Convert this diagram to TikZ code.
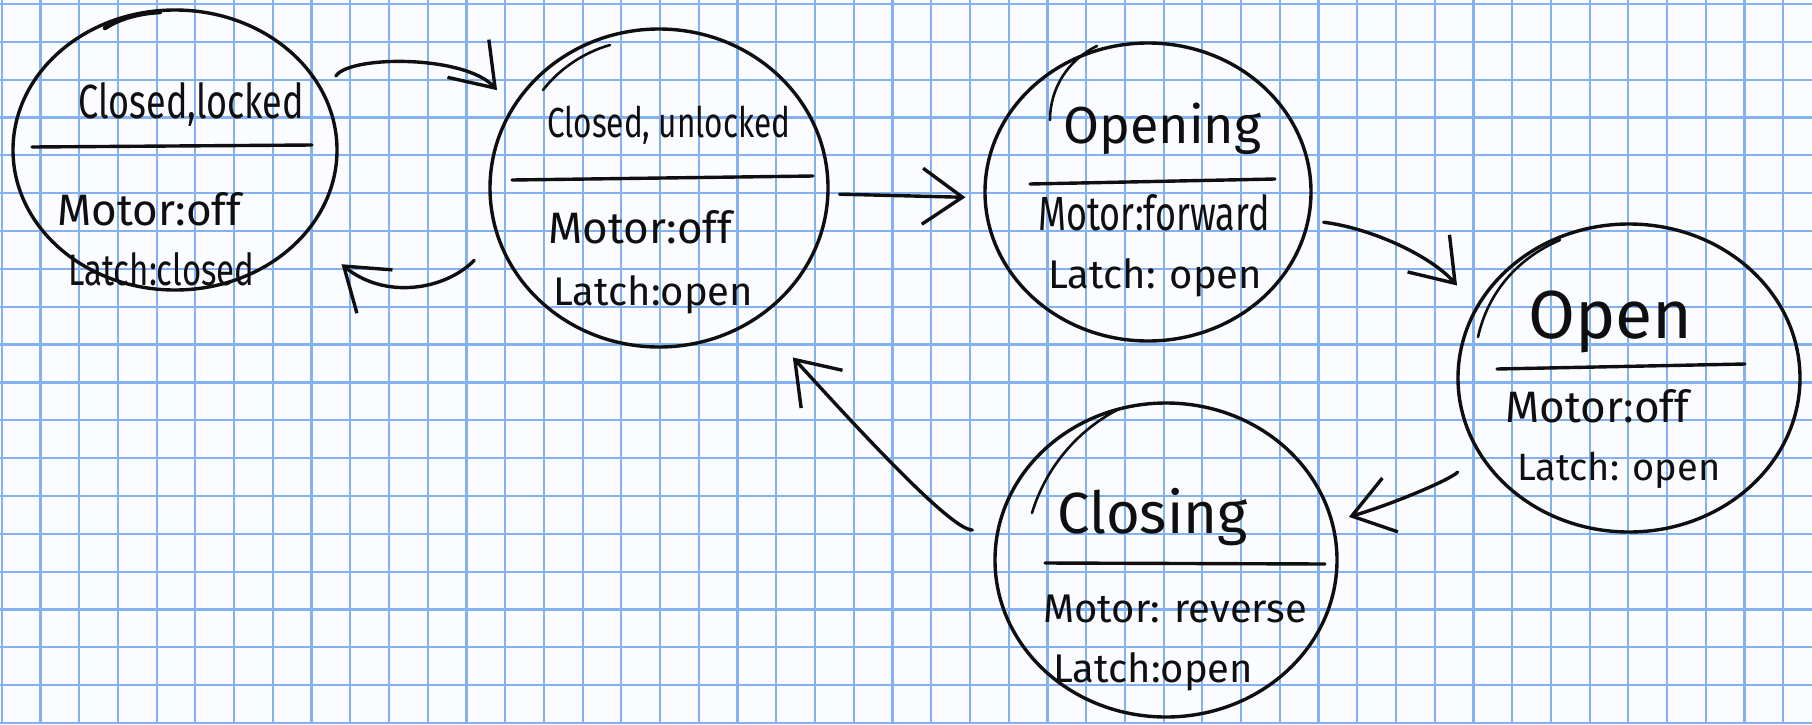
\documentclass[tikz,border=0pt]{standalone}
\usepackage{fontspec}
\setmainfont{Fira Sans}
\newfontfamily\narrowhand{Fira Sans}[FakeStretch=0.75]
\usetikzlibrary{shapes.geometric,arrows.meta}

\definecolor{gridblue}{RGB}{132,178,240}
\definecolor{paper}{RGB}{250,252,255}
\definecolor{ink}{RGB}{15,15,15}

\tikzset{
  gridline/.style={draw=gridblue, line width=1.1pt},
  state/.style={ellipse, draw=ink, line width=1.7pt, inner sep=0pt},
  pen/.style={draw=ink, line width=1.7pt, line cap=round, line join=round},
  retrace/.style={pen, line width=1.3pt},
  conn/.style={pen, -{Straight Barb[length=20pt,width=28pt]}},
  txt/.style={anchor=base west, inner sep=0pt, text=ink},
}

\begin{document}
\begin{tikzpicture}[x=0.5pt,y=-0.5pt]
% paper
\fill[paper] (0,0) rectangle (1812,724);
\useasboundingbox (0,0) rectangle (1812,724);
\foreach \k in {0,...,46}
  \draw[gridline] ({1.7+38.73*\k},0) -- ({1.7+38.73*\k},724);
\foreach \k in {0,...,19}
  \draw[gridline] (0,{4+37.84*\k}) -- (1812,{4+37.84*\k});

% states
\node[state, minimum width=162pt, minimum height=140pt] (CL)   at (175,150)  {};
\node[state, minimum width=169pt, minimum height=159pt] (CU)   at (659,188)  {};
\node[state, minimum width=163pt, minimum height=149pt] (OPG)  at (1148,192) {};
\node[state, minimum width=171pt, minimum height=154pt] (OPN)  at (1629,378) {};
\node[state, minimum width=171pt, minimum height=157pt] (CLS)  at (1166,560) {};

% retraced pen strokes on the outlines
\draw[pen, line width=2.3pt] (105,28) .. controls (120,18) and (140,13) .. (160,12);
\draw[retrace] (543,90) .. controls (560,68) and (585,52) .. (610,45);
\draw[retrace] (1050,120) .. controls (1050,88) and (1068,60) .. (1097,46);
\draw[retrace] (1478,337) .. controls (1488,292) and (1518,258) .. (1560,240);
\draw[retrace] (1032,513) .. controls (1045,470) and (1075,432) .. (1117,410);

% dividers
\draw[pen] (32,147) -- (312,145);
\draw[pen] (512,180) -- (813,176);
\draw[pen] (1030,184) -- (1275,179);
\draw[pen] (1497,369) -- (1745,364);
\draw[pen] (1045,563) -- (1325,564);

% titles
\node[txt, font=\narrowhand\fontsize{24}{24}\selectfont] (tCL)  at (78,118)   {Closed,locked};
\node[txt, font=\narrowhand\fontsize{21}{21}\selectfont] (tCU)  at (547,137)  {Closed, unlocked};
\node[txt, font=\fontsize{26}{26}\selectfont]           (tOPG) at (1063,143) {Opening};
\node[txt, font=\fontsize{34}{34}\selectfont]           (tOPN) at (1528,338) {Open};
\node[txt, font=\fontsize{29}{29}\selectfont]           (tCLS) at (1057,533) {Closing};

% state variables
\node[txt, font=\fontsize{22}{22}\selectfont]            (mCL)  at (57,225)   {Motor:off};
\node[txt, font=\narrowhand\fontsize{22}{22}\selectfont] (lCL)  at (68,285)   {Latch:closed};
\node[txt, font=\fontsize{22}{22}\selectfont]            (mCU)  at (548,243)  {Motor:off};
\node[txt, font=\fontsize{20}{20}\selectfont]            (lCU)  at (553,305)  {Latch:open};
\node[txt, font=\narrowhand\fontsize{24}{24}\selectfont] (mOPG) at (1038,230) {Motor:forward};
\node[txt, font=\fontsize{20}{20}\selectfont]            (lOPG) at (1048,288) {Latch: open};
\node[txt, font=\fontsize{22}{22}\selectfont]            (mOPN) at (1505,422) {Motor:off};
\node[txt, font=\fontsize{19}{19}\selectfont]            (lOPN) at (1517,480) {Latch: open};
\node[txt, font=\fontsize{20}{20}\selectfont]            (mCLS) at (1043,622) {Motor: reverse};
\node[txt, font=\fontsize{20}{20}\selectfont]            (lCLS) at (1053,682) {Latch:open};

% transitions
\draw[conn, shorten <=10pt, shorten >=11pt]
  (CL.21) .. controls (350,55) and (465,55) .. (CU.151);
\draw[conn, shorten <=16pt, shorten >=23pt]
  (CU.197) .. controls (445,290) and (385,300) .. (CL.-33);
\draw[conn, shorten <=5pt, shorten >=9pt] (CU.-2) -- (OPG.182);
\draw[conn, shorten <=7pt, shorten >=14pt]
  (OPG.-10) .. controls (1370,228) and (1430,255) .. (OPN.155);
\draw[conn, shorten <=14pt, shorten >=8pt]
  (OPN.206) .. controls (1450,480) and (1390,505) .. (CLS.13);
\draw[conn, shorten <=12pt, shorten >=26pt]
  (CLS.170) .. controls (950,530) and (850,420) .. (CU.-53);
\end{tikzpicture}
\end{document}
